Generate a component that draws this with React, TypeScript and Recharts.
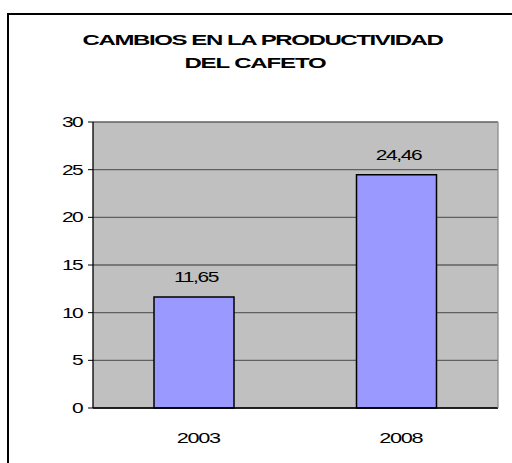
import { BarChart, Bar, XAxis, YAxis, CartesianGrid, LabelList } from "recharts";

const YEARS = ["2003", "2008"];
const PRODUCTIVITY = [11.65, 24.46];
const Y_TICKS = [0, 5, 10, 15, 20, 25, 30];
// category boundaries, where the old spreadsheet chart puts its x tick marks
const EDGE_TICKS = [0, 1, 2];

const TITLE_LINE_1 = "CAMBIOS EN LA PRODUCTIVIDAD";
const TITLE_LINE_2 = "DEL CAFETO";

const FONT = '"Liberation Sans", Arial, sans-serif';
const BAR_FILL = "#9999ff";
const PLOT_BG = "#c0c0c0";
const GRID = "#606060";

const data = YEARS.map((year, i) => ({ year, value: PRODUCTIVITY[i] }));

const fmt = (v: number) => v.toFixed(2).replace(".", ",");

// the source picture is stretched sideways, so text is widened and packed tight
function YTick({ x, y, payload }: any) {
  return (
    <g transform={`translate(${x},${y}) scale(1.5,1)`}>
      <text
        textAnchor="end"
        dy="0.36em"
        fontSize={14}
        letterSpacing={-1.1}
        fill="#000"
        fontFamily={FONT}
      >
        {payload.value}
      </text>
    </g>
  );
}

function XTick({ x, y, payload }: any) {
  return (
    <g transform={`translate(${x + 4},${y}) scale(1.55,1)`}>
      <text
        textAnchor="middle"
        y={35}
        fontSize={14}
        letterSpacing={-0.85}
        fill="#000"
        fontFamily={FONT}
      >
        {payload.value}
      </text>
    </g>
  );
}

function NoTick() {
  return <g />;
}

function ValueLabel({ x, y, width, value }: any) {
  const cx = Number(x) + Number(width) / 2 + 2;
  return (
    <g transform={`translate(${cx},${Number(y) - 15}) scale(1.5,1)`}>
      <text
        textAnchor="middle"
        fontSize={14}
        letterSpacing={-0.9}
        fill="#000"
        fontFamily={FONT}
      >
        {fmt(Number(value))}
      </text>
    </g>
  );
}

export default function App() {
  return (
    <div
      style={{
        position: "absolute",
        left: 0,
        top: 0,
        width: 512,
        height: 463,
        overflow: "hidden",
        background: "#fff",
      }}
    >
      <div
        style={{
          position: "absolute",
          left: 7,
          top: 13,
          width: 700,
          height: 700,
          borderTop: "2px solid #000",
          borderLeft: "2px solid #000",
        }}
      />
      <svg width={512} height={90} style={{ position: "absolute", left: 0, top: 0 }}>
        <g transform="translate(262.5,45) scale(1.6,1)">
          <text
            textAnchor="middle"
            fontSize={15}
            fontWeight="bold"
            letterSpacing={-0.87}
            fontFamily={FONT}
            fill="#000"
          >
            {TITLE_LINE_1}
          </text>
        </g>
        <g transform="translate(255,68) scale(1.6,1)">
          <text
            textAnchor="middle"
            fontSize={15}
            fontWeight="bold"
            letterSpacing={-0.7}
            fontFamily={FONT}
            fill="#000"
          >
            {TITLE_LINE_2}
          </text>
        </g>
      </svg>
      <div style={{ position: "absolute", left: 0, top: 0 }}>
        <BarChart
          width={512}
          height={463}
          data={data}
          margin={{ top: 122, right: 0, bottom: 0, left: 0 }}
        >
          <CartesianGrid
            vertical={false}
            stroke={GRID}
            strokeWidth={1.3}
            fill={PLOT_BG}
            fillOpacity={1}
          />
          <XAxis
            xAxisId="edges"
            type="number"
            domain={[0, 2]}
            ticks={EDGE_TICKS}
            height={0}
            axisLine={false}
            tickLine={{ stroke: "#000" }}
            tickSize={5}
            tick={NoTick}
          />
          <XAxis
            dataKey="year"
            height={55}
            axisLine={{ stroke: "#000", strokeWidth: 1.3 }}
            tickLine={false}
            tickSize={0}
            tickMargin={0}
            tick={XTick}
          />
          <YAxis
            domain={[0, 30]}
            ticks={Y_TICKS}
            width={93}
            axisLine={{ stroke: "#000", strokeWidth: 1.3 }}
            tickLine={{ stroke: "#000" }}
            tickSize={5}
            tickMargin={6}
            tick={YTick}
          />
          <YAxis
            yAxisId="frame"
            orientation="right"
            width={14}
            tick={false}
            tickLine={false}
            axisLine={{ stroke: "#8c8c8c", strokeWidth: 1.3 }}
          />
          <Bar
            dataKey="value"
            fill={BAR_FILL}
            stroke="#000"
            strokeWidth={1.5}
            barSize={80}
            isAnimationActive={false}
          >
            <LabelList dataKey="value" content={ValueLabel} />
          </Bar>
        </BarChart>
      </div>
    </div>
  );
}
